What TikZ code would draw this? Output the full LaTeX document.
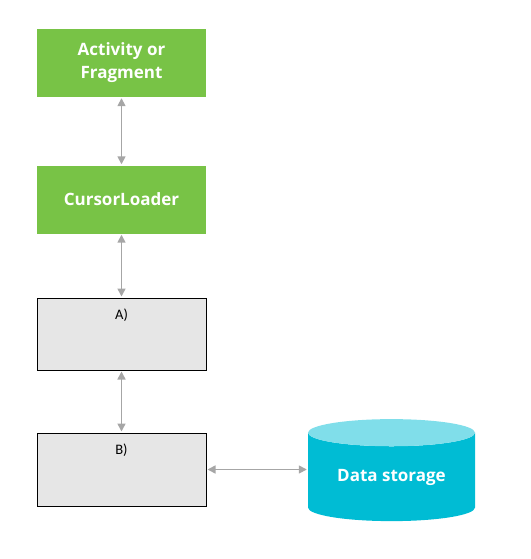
\documentclass[tikz,border=0pt]{standalone}
\usepackage{fontspec}
\setmainfont{Open Sans}
\newfontfamily\calfont{Carlito}
\usetikzlibrary{arrows.meta, shapes.geometric}

\definecolor{droidgreen}{RGB}{120,195,70}
\definecolor{boxgray}{RGB}{230,230,230}
\definecolor{linkgray}{RGB}{166,166,166}
\definecolor{storecyan}{RGB}{0,188,212}
\definecolor{storetop}{RGB}{128,222,234}

\tikzset{
  greenbox/.style={rectangle, fill=droidgreen, text=white, align=center,
    minimum width=169pt, minimum height=68pt, inner sep=0pt,
    font=\fontsize{17}{23}\selectfont\bfseries},
  graybox/.style={rectangle, draw=black, line width=1pt, fill=boxgray,
    minimum width=169pt, minimum height=72pt, inner sep=0pt},
  tag/.style={font=\calfont\fontsize{14.5}{16}\selectfont},
  link/.style={{Triangle[length=8pt,width=8pt]}-{Triangle[length=8pt,width=8pt]},
    draw=linkgray, line width=1.6pt, shorten <=1pt, shorten >=1pt},
}

\begin{document}
\begin{tikzpicture}[x=1pt, y=-1pt]
  \useasboundingbox (0,0) rectangle (530,559);

  \node[greenbox] (act) at (121.5,63) {Activity or\\Fragment};
  \node[greenbox] (loader) at (121.5,199.5) {CursorLoader};
  \node[graybox, label={[tag, below=8pt]north:A)}] (boxA) at (121.5,334) {};
  \node[graybox, minimum height=73pt, label={[tag, below=8pt]north:B)}] (boxB) at (121.5,469.5) {};

  % data storage
  \node[cylinder, shape border rotate=90, aspect=0.25, cylinder uses custom fill,
    cylinder body fill=storecyan, cylinder end fill=storetop,
    minimum width=167pt, minimum height=102pt, inner sep=0pt, text=white,
    font=\fontsize{17}{20}\selectfont\bfseries] (store) at (391.5,477) {Data storage};

  \draw[link] (act) -- (loader);
  \draw[link] (loader) -- (boxA);
  \draw[link] (boxA) -- (boxB);
  \draw[link] (boxB.east) -- (store.west |- boxB.east);
\end{tikzpicture}
\end{document}
